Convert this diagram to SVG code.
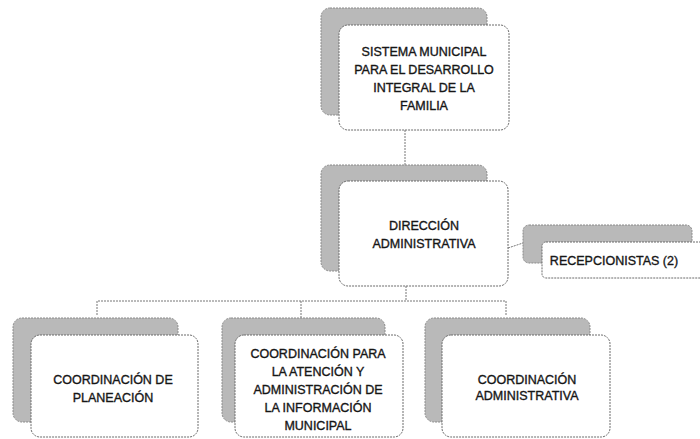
<svg xmlns="http://www.w3.org/2000/svg" width="700" height="439" viewBox="0 0 700 439">
<style>
.back{fill:#b9b9b9;stroke:#8a8a8a;stroke-width:1;stroke-dasharray:2 1}
.front{fill:#ffffff;stroke:#6a6a6a;stroke-width:1;stroke-dasharray:2 1}
.t{font-family:"Liberation Sans",Arial,sans-serif;font-size:12.5px;fill:#161616;stroke:#161616;stroke-width:0.35;text-anchor:middle;dominant-baseline:central}
.c{fill:none;stroke:#777;stroke-width:1;stroke-dasharray:2 1}
</style>
<rect width="700" height="439" fill="#ffffff"/>
<g id="connectors">
<path class="c" d="M405 130 V165"/>
<path class="c" d="M406 286 V301"/>
<path class="c" d="M97 315 V301 H506 V315"/>
<path class="c" d="M301 301 V318"/>
<path class="c" d="M508 248 L523 243"/>
</g>
<g id="sistema">
<rect class="back" x="321" y="8" width="166" height="107" rx="9"/>
<rect class="front" x="339" y="25" width="170" height="105" rx="9"/>
<text class="t" x="424" y="52">SISTEMA MUNICIPAL</text>
<text class="t" x="424" y="70">PARA EL DESARROLLO</text>
<text class="t" x="424" y="88">INTEGRAL DE LA</text>
<text class="t" x="424" y="106">FAMILIA</text>
</g>
<g id="direccion">
<rect class="back" x="321" y="165" width="166" height="106" rx="9"/>
<rect class="front" x="339" y="181" width="169" height="105" rx="9"/>
<text class="t" x="424" y="226">DIRECCIÓN</text>
<text class="t" x="424" y="244">ADMINISTRATIVA</text>
</g>
<g id="recepcionistas">
<rect class="back" x="523" y="225" width="169" height="38" rx="6"/>
<rect class="front" x="542" y="242" width="170" height="36" rx="4"/>
<text class="t" x="614" y="261">RECEPCIONISTAS (2)</text>
</g>
<g id="planeacion">
<rect class="back" x="13" y="318" width="165" height="104" rx="9"/>
<rect class="front" x="31" y="335" width="167" height="102" rx="9"/>
<text class="t" x="113" y="380">COORDINACIÓN DE</text>
<text class="t" x="113" y="398">PLANEACIÓN</text>
</g>
<g id="atencion">
<rect class="back" x="222" y="318" width="163" height="104" rx="9"/>
<rect class="front" x="235" y="335" width="168" height="102" rx="9"/>
<text class="t" x="318" y="354">COORDINACIÓN PARA</text>
<text class="t" x="318" y="372">LA ATENCIÓN Y</text>
<text class="t" x="318" y="390">ADMINISTRACIÓN DE</text>
<text class="t" x="318" y="408">LA INFORMACIÓN</text>
<text class="t" x="318" y="426">MUNICIPAL</text>
</g>
<g id="administrativa">
<rect class="back" x="425" y="318" width="165" height="104" rx="9"/>
<rect class="front" x="442" y="335" width="168" height="102" rx="9"/>
<text class="t" x="527" y="380">COORDINACIÓN</text>
<text class="t" x="527" y="396">ADMINISTRATIVA</text>
</g>
</svg>
